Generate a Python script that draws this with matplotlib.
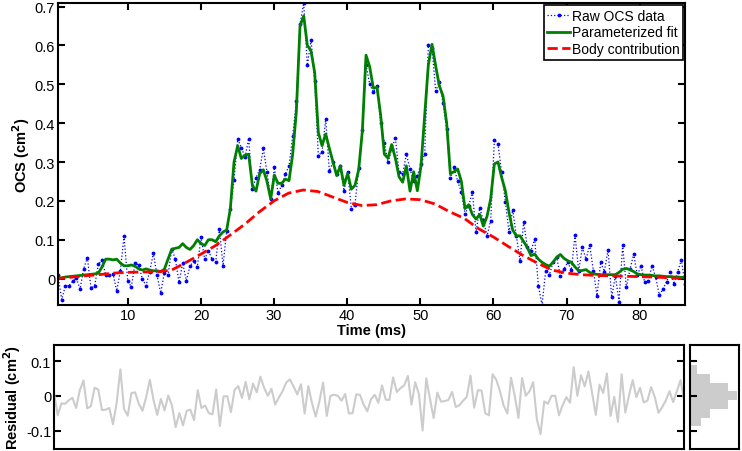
import numpy as np
import matplotlib
matplotlib.use('Agg')
from matplotlib import pyplot as plt

plt.rcParams['font.family'] = ['Liberation Sans', 'DejaVu Sans']
plt.rcParams['font.size'] = 10.5

# raw OCS samples, ~0.5 ms apart
raw = [
    0.008, -0.054, -0.018, -0.018, -0.007, 0.001, -0.027, 0.025, 0.054, -0.025,
    -0.018, 0.037, 0.048, 0.009, 0.010, 0.013, -0.032, 0.020, 0.109, -0.005,
    -0.022, 0.040, 0.035, -0.001, -0.018, 0.018, 0.066, 0.008, -0.037, 0.015,
    0.008, 0.076, 0.050, -0.010, 0.040, -0.005, 0.032, 0.045, 0.030, 0.106,
    0.050, 0.072, 0.050, 0.042, 0.128, 0.033, 0.123, 0.179, 0.253, 0.359,
    0.337, 0.312, 0.360, 0.230, 0.260, 0.280, 0.335, 0.273, 0.205, 0.286,
    0.220, 0.240, 0.269, 0.290, 0.367, 0.457, 0.654, 0.709, 0.549, 0.614,
    0.509, 0.316, 0.326, 0.410, 0.277, 0.300, 0.268, 0.290, 0.226, 0.275,
    0.179, 0.190, 0.284, 0.383, 0.550, 0.500, 0.480, 0.495, 0.400, 0.350,
    0.299, 0.333, 0.363, 0.273, 0.270, 0.320, 0.282, 0.250, 0.265, 0.295,
    0.320, 0.600, 0.594, 0.483, 0.505, 0.453, 0.385, 0.258, 0.286, 0.250,
    0.223, 0.166, 0.187, 0.223, 0.119, 0.181, 0.150, 0.110, 0.149, 0.357,
    0.346, 0.273, 0.198, 0.119, 0.177, 0.110, 0.046, 0.146, 0.080, 0.072,
    0.102, -0.018, -0.068, 0.020, 0.009, 0.042, 0.055, 0.006, 0.025, 0.042,
    0.022, 0.112, 0.020, 0.080, 0.050, 0.086, 0.020, -0.044, 0.042, 0.018,
    0.074, -0.048, 0.007, -0.059, 0.086, -0.022, 0.024, 0.063, 0.008, 0.033,
    -0.010, -0.005, 0.033, 0.003, -0.042, -0.027, -0.008, 0.018, -0.014, 0.018,
    0.048, -0.014,
]

fit = [
    0.000, 0.002, 0.004, 0.005, 0.006, 0.007, 0.008, 0.009, 0.010, 0.011,
    0.012, 0.014, 0.030, 0.050, 0.050, 0.048, 0.050, 0.040, 0.033, 0.033,
    0.035, 0.032, 0.025, 0.022, 0.025, 0.022, 0.020, 0.020, 0.018, 0.024,
    0.050, 0.075, 0.078, 0.080, 0.090, 0.080, 0.075, 0.085, 0.100, 0.090,
    0.085, 0.100, 0.100, 0.095, 0.110, 0.120, 0.125, 0.180, 0.300, 0.342,
    0.309, 0.318, 0.320, 0.240, 0.225, 0.270, 0.280, 0.250, 0.205, 0.266,
    0.245, 0.245, 0.256, 0.252, 0.320, 0.430, 0.650, 0.676, 0.600, 0.586,
    0.530, 0.376, 0.342, 0.372, 0.335, 0.300, 0.265, 0.290, 0.240, 0.270,
    0.230, 0.240, 0.280, 0.380, 0.575, 0.545, 0.490, 0.492, 0.420, 0.320,
    0.310, 0.345, 0.310, 0.262, 0.248, 0.290, 0.225, 0.275, 0.226, 0.290,
    0.420, 0.550, 0.603, 0.547, 0.496, 0.470, 0.400, 0.270, 0.275, 0.282,
    0.250, 0.180, 0.190, 0.165, 0.153, 0.165, 0.135, 0.160, 0.205, 0.295,
    0.300, 0.260, 0.226, 0.170, 0.125, 0.110, 0.110, 0.095, 0.080, 0.059,
    0.063, 0.050, 0.042, 0.036, 0.032, 0.042, 0.055, 0.062, 0.052, 0.046,
    0.042, 0.030, 0.020, 0.021, 0.023, 0.016, 0.012, 0.011, 0.010, 0.010,
    0.010, 0.010, 0.010, 0.016, 0.024, 0.026, 0.023, 0.018, 0.012, 0.010,
    0.009, 0.009, 0.008, 0.007, 0.007, 0.006, 0.005, 0.005, 0.004, 0.004,
    0.003, 0.003,
]

# body contribution, every 2 ms
body_t = list(range(0, 88, 2))
body = [
    0.000, 0.003, 0.007, 0.010, 0.014, 0.016, 0.017, 0.017, 0.022, 0.042,
    0.063, 0.085, 0.112, 0.140, 0.172, 0.200, 0.220, 0.228, 0.224, 0.210,
    0.196, 0.188, 0.190, 0.200, 0.205, 0.203, 0.192, 0.172, 0.155, 0.128,
    0.107, 0.083, 0.060, 0.040, 0.022, 0.014, 0.010, 0.008, 0.007, 0.006,
    0.005, 0.004, 0.002, 0.000,
]

# residual histogram
hist_centers = [-0.075, -0.05, -0.025, 0.0, 0.025, 0.05, 0.075]
hist_counts = [11, 20, 37, 46, 37, 20, 7]

t = np.linspace(0.45, 86.2, len(raw))
raw = np.array(raw)
fit = np.array(fit)
resid = raw - fit

# %%
fig = plt.figure(figsize=(7.42, 4.52), dpi=100)
ax = fig.add_axes([0.0782, 0.323, 0.845, 0.668])
axr = fig.add_axes([0.0728, 0.0044, 0.8494, 0.2301])
axh = fig.add_axes([0.930, 0.0044, 0.0664, 0.2301])

ax.plot(t, raw, ':', color='b', lw=0.9, marker='.', ms=3.5, label='Raw OCS data')
ax.plot(t, fit, '-', color=(0, 0.5, 0), lw=2, label='Parameterized fit')
ax.plot(body_t, body, '--', color='r', lw=2, label='Body contribution')

ax.set_xlim(t[0], t[-1])
ax.set_ylim(-0.068, 0.709)
ax.set_xticks(range(10, 90, 10))
ax.set_yticks(np.arange(0, 0.71, 0.1))
ax.set_yticklabels(['0', '0.1', '0.2', '0.3', '0.4', '0.5', '0.6', '0.7'])
ax.set_xlabel('Time (ms)', fontweight='bold', labelpad=1)
ax.set_ylabel('OCS (cm$^\\mathbf{2}$)', fontweight='bold', labelpad=2)

leg = ax.legend(loc='upper right', handlelength=1.6, handletextpad=0.15,
                borderpad=0.25, labelspacing=0.2, borderaxespad=0.15,
                fancybox=False, framealpha=1, fontsize=10)
leg.get_frame().set_edgecolor('k')
leg.get_frame().set_linewidth(1.2)

axr.plot(t, resid, color='0.8', lw=1.5)
axr.set_xlim(t[0], t[-1])
axr.set_ylim(-0.153, 0.146)
axr.set_yticks([-0.1, 0, 0.1])
axr.set_yticklabels(['-0.1', '0', '0.1'])
axr.set_xticks([])
axr.set_ylabel('Residual (cm$^\\mathbf{2}$)', fontweight='bold', labelpad=2)

axh.barh(hist_centers, hist_counts, height=0.025, color='0.8', edgecolor='none')
axh.set_xlim(0, 48.6)
axh.set_ylim(-0.153, 0.146)
axh.set_yticks([-0.1, 0, 0.1])
axh.set_yticklabels([])
axh.set_xticks([])

for a in (ax, axr, axh):
    for s in a.spines.values():
        s.set_linewidth(1.5)
    a.tick_params(direction='in', length=5, width=1.5, top=True, right=True,
                  labelsize=10.5, pad=2)
axh.tick_params(right=False)

fig.savefig('out.png', dpi=100)
